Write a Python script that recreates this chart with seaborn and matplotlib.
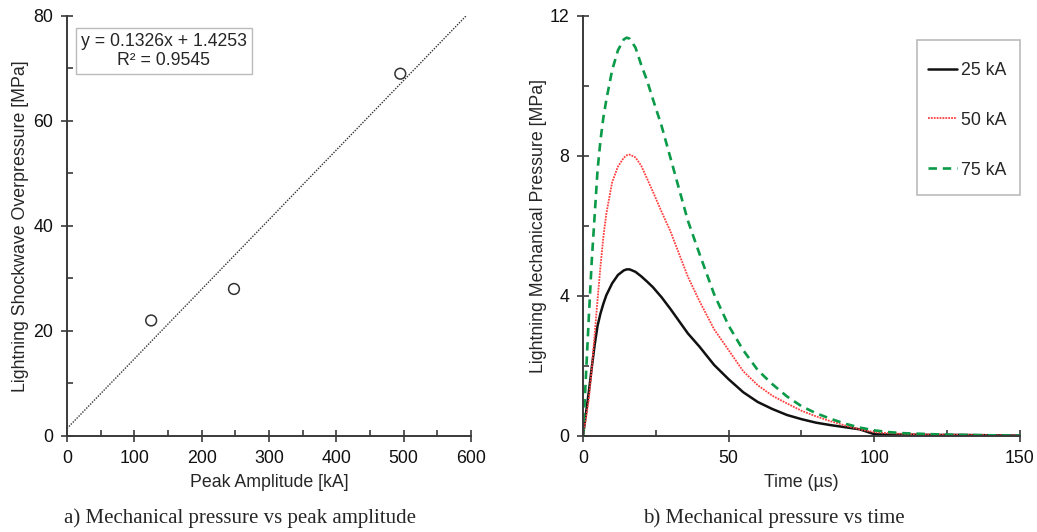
import numpy as np
import pandas as pd
import matplotlib
matplotlib.use("Agg")
import matplotlib.pyplot as plt
from matplotlib.patches import Rectangle
from matplotlib.ticker import MultipleLocator
import seaborn as sns

# ---- (a) shockwave overpressure vs peak amplitude ----
peak_amplitude_ka = [125, 248, 495]
overpressure_mpa = [22, 28, 69]
fit_slope = 0.1326
fit_intercept = 1.4253
fit_r2 = 0.9545

# ---- (b) mechanical pressure vs time ----
time_us = [0, 1, 2, 3, 4, 5, 6, 7, 8, 10, 12, 14, 15, 16, 18, 20, 22, 24, 27, 30,
           33, 36, 40, 45, 50, 55, 60, 65, 70, 75, 80, 85, 90, 95, 100, 105, 110,
           120, 130, 140, 150]
p_25ka = [0, 0.63, 1.26, 1.95, 2.6, 3.15, 3.5, 3.78, 4.02, 4.36, 4.6, 4.73, 4.76,
          4.76, 4.69, 4.56, 4.41, 4.25, 3.96, 3.63, 3.28, 2.93, 2.55, 2.03, 1.62,
          1.25, 0.97, 0.77, 0.6, 0.48, 0.38, 0.31, 0.25, 0.19, 0.05, 0.04, 0.04,
          0.03, 0.03, 0.02, 0.01]
p_50ka = [0, 0.5, 1.05, 1.9, 2.9, 3.9, 4.85, 5.69, 6.35, 7.25, 7.7, 7.95, 8.02,
          8.04, 7.96, 7.72, 7.35, 6.98, 6.4, 5.85, 5.2, 4.55, 3.85, 3.05, 2.45,
          1.85, 1.45, 1.15, 0.93, 0.72, 0.56, 0.42, 0.3, 0.19, 0.11, 0.08, 0.06,
          0.04, 0.03, 0.02, 0.01]
p_75ka = [0, 1.7, 3.4, 5.0, 6.3, 7.6, 8.45, 9.1, 9.6, 10.45, 11.02, 11.33, 11.38,
          11.35, 11.1, 10.6, 10.15, 9.62, 8.85, 7.95, 7.05, 6.15, 5.2, 4.05, 3.15,
          2.45, 1.88, 1.48, 1.13, 0.85, 0.65, 0.49, 0.35, 0.24, 0.16, 0.11, 0.08,
          0.05, 0.03, 0.02, 0.01]
series_labels = ["25 kA", "50 kA", "75 kA"]

sns.set_theme(style="ticks")
plt.rcParams["font.family"] = ["Liberation Sans", "DejaVu Sans"]
plt.rcParams["axes.edgecolor"] = "#3a3a3a"
plt.rcParams["xtick.color"] = "#3a3a3a"
plt.rcParams["ytick.color"] = "#3a3a3a"
plt.rcParams["xtick.labelcolor"] = "#111111"
plt.rcParams["ytick.labelcolor"] = "#111111"

fig = plt.figure(figsize=(10.37, 5.32), dpi=100)
ax1 = fig.add_axes([0.0646, 0.1805, 0.3896, 0.7895])
ax2 = fig.add_axes([0.5622, 0.1805, 0.4214, 0.7895])

FS = 12.8


def style_axes(ax):
    sns.despine(ax=ax)
    for s in ("left", "bottom"):
        ax.spines[s].set_linewidth(1.4)
    ax.tick_params(which="major", direction="inout", length=8, width=1.2,
                   labelsize=FS, pad=6)
    ax.tick_params(which="minor", direction="in", length=4, width=1.2)
    ax.set_facecolor("white")


# ---- panel a ----
df_a = pd.DataFrame({"amp": peak_amplitude_ka, "p": overpressure_mpa})
x_fit = np.array([0, 600])
ax1.plot(x_fit, fit_slope * x_fit + fit_intercept, color="#333333",
         linestyle=(0, (1, 1)), linewidth=1.0, zorder=2)
sns.scatterplot(data=df_a, x="amp", y="p", ax=ax1, marker="o", s=60,
                facecolor="none", edgecolor="#333333", linewidth=1.1, zorder=3)
ax1.set_xlim(0, 600)
ax1.set_ylim(0, 80)
ax1.xaxis.set_major_locator(MultipleLocator(100))
ax1.xaxis.set_minor_locator(MultipleLocator(50))
ax1.yaxis.set_major_locator(MultipleLocator(20))
ax1.yaxis.set_minor_locator(MultipleLocator(10))
style_axes(ax1)
ax1.set_xlabel("Peak Amplitude [kA]", fontsize=FS, labelpad=5)
ax1.set_ylabel("Lightning Shockwave Overpressure [MPa]", fontsize=FS, labelpad=3)
ax1.text(144, 73.3, f"y = {fit_slope}x + {fit_intercept}\nR² = {fit_r2}",
         ha="center", va="center", fontsize=12.7, linespacing=1.15,
         bbox=dict(boxstyle="square,pad=0.28", facecolor="white",
                   edgecolor="#bbbbbb", linewidth=1.0))

# ---- panel b ----
df_b = pd.DataFrame({
    "t": time_us * 3,
    "p": p_25ka + p_50ka + p_75ka,
    "case": np.repeat(series_labels, len(time_us)),
})
line_styles = {
    "25 kA": dict(color="#111111", linewidth=1.8, linestyle="-"),
    "50 kA": dict(color="#ff4040", linewidth=1.3, linestyle=(0, (1, 0.6))),
    "75 kA": dict(color="#0a9a48", linewidth=1.9, linestyle=(0, (3.2, 2.2))),
}
for lab in series_labels:
    sns.lineplot(data=df_b[df_b["case"] == lab], x="t", y="p", ax=ax2,
                 label=lab, estimator=None, sort=False, **line_styles[lab])
ax2.set_xlim(0, 150)
ax2.set_ylim(0, 12)
ax2.xaxis.set_major_locator(MultipleLocator(50))
ax2.xaxis.set_minor_locator(MultipleLocator(25))
ax2.yaxis.set_major_locator(MultipleLocator(4))
ax2.yaxis.set_minor_locator(MultipleLocator(2))
style_axes(ax2)
ax2.set_xlabel("Time (µs)", fontsize=FS, labelpad=5)
ax2.set_ylabel("Lightning Mechanical Pressure [MPa]", fontsize=FS, labelpad=2)

# legend entries without their own frame; a fixed box is drawn around them
leg = ax2.legend(loc="upper left", bbox_to_anchor=(0.79, 0.891), fontsize=FS,
                 frameon=False, handlelength=1.6, handletextpad=0.25,
                 labelspacing=1.85, borderpad=0, borderaxespad=0)
ax2.add_patch(Rectangle((0.764, 0.574), 0.236, 0.369, transform=ax2.transAxes,
                        facecolor="none", edgecolor="#bbbbbb", linewidth=1.2,
                        clip_on=False, zorder=5))

# ---- captions ----
fig.text(0.2313, 0.026, "a) Mechanical pressure vs peak amplitude",
         ha="center", va="center", fontsize=15, family="Liberation Serif")
fig.text(0.746, 0.026, "b) Mechanical pressure vs time",
         ha="center", va="center", fontsize=15, family="Liberation Serif")

fig.savefig("out.png", dpi=100, facecolor="white")
